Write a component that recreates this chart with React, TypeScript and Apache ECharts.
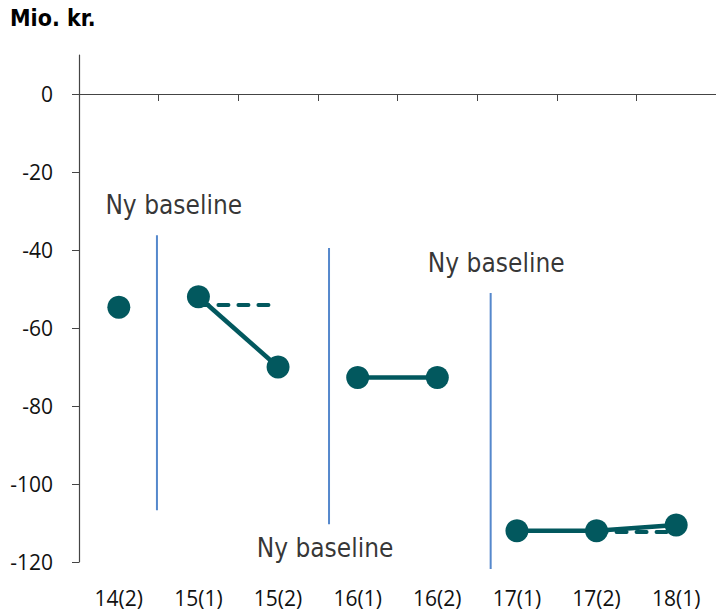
import React, { useEffect, useRef } from "react";
import * as echarts from "echarts";

const categories = ["14(2)", "15(1)", "15(2)", "16(1)", "16(2)", "17(1)", "17(2)", "18(1)"];
const yTicks = [-120, -100, -80, -60, -40, -20, 0];

const seg1 = [-54.7, null, null, null, null, null, null, null];
const seg2 = [null, -52, -70, null, null, null, null, null];
const seg3 = [null, null, null, -72.7, -72.7, null, null, null];
const seg4 = [null, null, null, null, null, -112, -112, -110.5];
const dash1 = [null, -54.1, -54.1, null, null, null, null, null];
const dash2 = [null, null, null, null, null, null, -112.3, -112.3];

// baseline separators: [x position in category units, top value, bottom value]
const baselineX = [0.479, 2.64, 4.67];
const baselineTop = [-36.2, -39.5, -51.0];
const baselineBottom = [-106.7, -110.3, -121.8];

const labelText = "Ny baseline";
const labelX = [0.69, 4.74, 2.59];
const labelY = [-28.5, -43.3, -116.4];

const TEAL = "#02585E";
const BLUE = "#5588CC";
const TICK_FONT = "'Open Sans', 'Noto Sans', sans-serif";
const LABEL_FONT = "'DejaVu Sans Condensed', 'Open Sans', sans-serif";

export default function App() {
  const ref = useRef<HTMLDivElement>(null);
  useEffect(() => {
    if (!ref.current) return;
    const chart = echarts.init(ref.current, null, { renderer: "svg" });
    const solid = [seg1, seg2, seg3, seg4].map((d) => ({
      type: "line",
      data: d,
      xAxisIndex: 0,
      yAxisIndex: 0,
      symbol: "circle",
      symbolSize: 23,
      showSymbol: true,
      itemStyle: { color: TEAL },
      lineStyle: { color: TEAL, width: 4.5 },
      z: 5,
    }));
    const dashed = [dash1, dash2].map((d) => ({
      type: "line",
      data: d,
      xAxisIndex: 0,
      yAxisIndex: 0,
      symbol: "none",
      lineStyle: { color: TEAL, width: 4, type: [10, 10], cap: "round" },
      z: 4,
    }));
    const separators = baselineX.map((x, i) => ({
      type: "line",
      data: [
        [x, baselineTop[i]],
        [x, baselineBottom[i]],
      ],
      xAxisIndex: 2,
      yAxisIndex: 0,
      symbol: "none",
      clip: false,
      lineStyle: { color: BLUE, width: 2 },
      z: 3,
    }));
    const labels = {
      type: "scatter",
      xAxisIndex: 2,
      yAxisIndex: 0,
      data: labelX.map((x, i) => [x, labelY[i]]),
      symbolSize: 1,
      itemStyle: { color: "transparent" },
      clip: false,
      label: {
        show: true,
        position: "inside",
        formatter: labelText,
        color: "#000",
        fontSize: 26,
        fontFamily: LABEL_FONT,
      },
      z: 6,
    };
    chart.setOption({
      animation: false,
      backgroundColor: "#fff",
      title: {
        text: "Mio. kr.",
        left: 5,
        top: 1,
        textStyle: { fontSize: 23, fontWeight: "bold", color: "#000", fontFamily: LABEL_FONT },
      },
      grid: { left: 79, width: 640, top: 55, bottom: 51, containLabel: false },
      xAxis: [
        {
          type: "category",
          data: categories,
          position: "bottom",
          boundaryGap: true,
          axisLine: { show: false, onZero: false },
          axisTick: { show: false },
          axisLabel: { margin: 25, fontSize: 21, lineHeight: 22, color: "#111", fontFamily: TICK_FONT },
          splitLine: { show: false },
        },
        {
          type: "category",
          data: categories,
          position: "bottom",
          boundaryGap: true,
          axisLine: { show: true, onZero: true, lineStyle: { color: "#444", width: 1.2 } },
          axisTick: { show: true, length: 7, alignWithLabel: false, lineStyle: { color: "#444" } },
          axisLabel: { show: false },
          splitLine: { show: false },
        },
        {
          type: "value",
          min: -0.5,
          max: 7.5,
          position: "top",
          show: false,
        },
      ],
      yAxis: {
        type: "value",
        min: -120,
        max: 10,
        interval: 20,
        axisLine: { show: true, onZero: false, lineStyle: { color: "#444", width: 1.2 } },
        axisTick: { show: true, length: 7, customValues: yTicks, lineStyle: { color: "#444" } },
        axisLabel: { margin: 26, fontSize: 21, color: "#111", fontFamily: TICK_FONT, customValues: yTicks },
        splitLine: { show: false },
      },
      series: [...separators, ...dashed, ...solid, labels],
    });
    return () => chart.dispose();
  }, []);
  return (
    <div
      ref={ref}
      style={{ position: "absolute", left: 0, top: 0, width: 716, height: 613 }}
    />
  );
}
